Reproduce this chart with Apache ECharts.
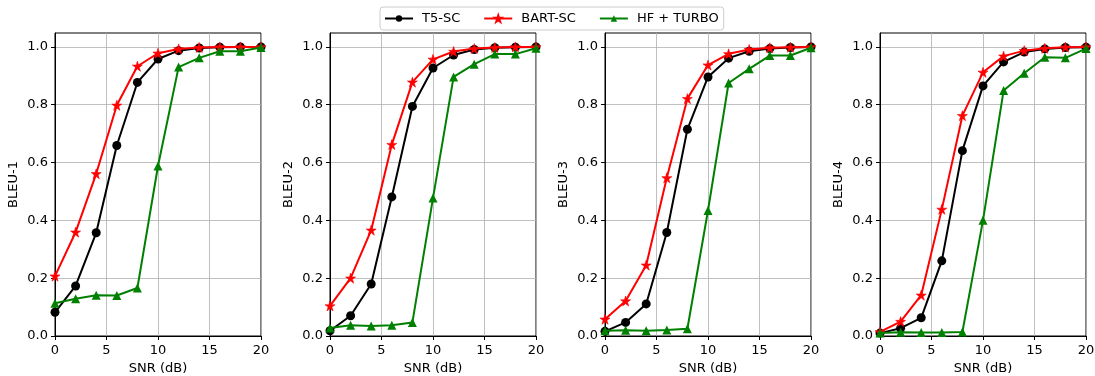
<!DOCTYPE html>
<html>
<head>
<meta charset="utf-8">
<script src="https://cdn.jsdelivr.net/npm/echarts@6/dist/echarts.min.js"></script>
<style>
html,body{margin:0;padding:0;background:#fff;}
#main{width:1095px;height:376px;}
</style>
</head>
<body>
<div id="main"></div>
<script>
const snr = [0, 2, 4, 6, 8, 10, 12, 14, 16, 18, 20];
const seriesNames = ['T5-SC', 'BART-SC', 'HF + TURBO'];
const panelLabels = ['BLEU-1', 'BLEU-2', 'BLEU-3', 'BLEU-4'];
const xTicks = [0, 5, 10, 15, 20];
const yTicks = [0, 0.2, 0.4, 0.6, 0.8, 1.0];

const t5_b1   = [0.082, 0.173, 0.357, 0.659, 0.877, 0.958, 0.987, 0.996, 0.999, 1.0, 1.0];
const bart_b1 = [0.207, 0.359, 0.561, 0.798, 0.933, 0.978, 0.993, 0.998, 1.0, 1.0, 1.0];
const hf_b1   = [0.113, 0.129, 0.141, 0.140, 0.166, 0.588, 0.930, 0.962, 0.985, 0.985, 0.998];

const t5_b2   = [0.018, 0.070, 0.180, 0.481, 0.794, 0.927, 0.972, 0.991, 0.997, 0.999, 1.0];
const bart_b2 = [0.104, 0.200, 0.366, 0.662, 0.878, 0.957, 0.984, 0.994, 0.998, 1.0, 1.0];
const hf_b2   = [0.028, 0.037, 0.035, 0.037, 0.047, 0.477, 0.896, 0.940, 0.975, 0.975, 0.995];

const t5_b3   = [0.016, 0.047, 0.111, 0.358, 0.715, 0.896, 0.961, 0.985, 0.994, 0.998, 1.0];
const bart_b3 = [0.058, 0.121, 0.245, 0.547, 0.821, 0.937, 0.976, 0.991, 0.997, 0.999, 1.0];
const hf_b3   = [0.018, 0.020, 0.018, 0.021, 0.025, 0.434, 0.875, 0.924, 0.970, 0.970, 0.997];

const t5_b4   = [0.010, 0.027, 0.063, 0.260, 0.641, 0.865, 0.948, 0.982, 0.993, 0.998, 0.999];
const bart_b4 = [0.014, 0.050, 0.141, 0.438, 0.762, 0.912, 0.968, 0.987, 0.995, 0.999, 1.0];
const hf_b4   = [0.010, 0.013, 0.012, 0.012, 0.014, 0.400, 0.849, 0.909, 0.964, 0.962, 0.994];

const panels = [
  [t5_b1, bart_b1, hf_b1],
  [t5_b2, bart_b2, hf_b2],
  [t5_b3, bart_b3, hf_b3],
  [t5_b4, bart_b4, hf_b4]
];

const colors = ['#000000', '#ff0000', '#008000'];
const starPath = 'path://M0,-1000L224.5,-309L951,-309L363,118L588,809L0,382L-588,809L-363,118L-951,-309L-224.5,-309Z';
const symbols = ['circle', starPath, 'triangle'];
const symbolSizes = [9, 10, 9];
const borderWidths = [0, 0.6, 0];

const gridLefts = [55, 330, 605, 880];
const font = 'DejaVu Sans';

const grids = [], xAxes = [], yAxes = [], series = [];
panels.forEach((p, gi) => {
  grids.push({left: gridLefts[gi], top: 33, width: 206, height: 303, show: true,
    outerBoundsMode: 'none', containLabel: false,
    borderColor: '#000', borderWidth: 1, backgroundColor: 'transparent'});
  xAxes.push({
    type: 'value', gridIndex: gi, min: 0, max: 20, interval: 5,
    name: 'SNR (dB)', nameLocation: 'middle', nameGap: 26,
    nameTextStyle: {fontFamily: font, fontSize: 13, color: '#000'},
    axisLine: {show: true, onZero: false, lineStyle: {color: '#000', width: 1}},
    axisTick: {show: true, length: 4, lineStyle: {color: '#000'}, customValues: xTicks},
    axisLabel: {fontFamily: font, fontSize: 13, color: '#000', margin: 8, customValues: xTicks,
      formatter: v => String(v)},
    splitLine: {show: true, lineStyle: {color: '#b0b0b0', width: 0.8}}
  });
  yAxes.push({
    type: 'value', gridIndex: gi, min: 0, max: 1.048, interval: 0.2,
    name: panelLabels[gi], nameLocation: 'middle', nameGap: 35, nameRotate: 90,
    nameTextStyle: {fontFamily: font, fontSize: 13, color: '#000'},
    axisLine: {show: true, onZero: false, lineStyle: {color: '#000', width: 1}},
    axisTick: {show: true, length: 4, lineStyle: {color: '#000'}, customValues: yTicks},
    axisLabel: {fontFamily: font, fontSize: 13, color: '#000', margin: 7, customValues: yTicks,
      formatter: v => v.toFixed(1)},
    splitLine: {show: true, lineStyle: {color: '#b0b0b0', width: 0.8}}
  });
  p.forEach((arr, si) => {
    series.push({
      name: seriesNames[si], type: 'line', xAxisIndex: gi, yAxisIndex: gi,
      data: snr.map((x, i) => [x, arr[i]]),
      symbol: symbols[si], symbolSize: symbolSizes[si], showAllSymbol: true,
      lineStyle: {color: colors[si], width: 2},
      itemStyle: {color: colors[si], borderColor: colors[si], borderWidth: borderWidths[si]},
      animation: false, z: 2 + si
    });
  });
});

const chart = echarts.init(document.getElementById('main'), null, {renderer: 'canvas'});
chart.setOption({
  backgroundColor: '#ffffff',
  animation: false,
  legend: {
    data: seriesNames, left: 380, top: 7,
    padding: [5, 5, 5, 4], itemGap: 23, itemWidth: 28, itemHeight: 8,
    borderColor: '#cccccc', borderWidth: 1, borderRadius: 3, backgroundColor: 'rgba(255,255,255,0.8)',
    textStyle: {fontFamily: font, fontSize: 13, color: '#000', padding: [0, 0, 0, 4]}
  },
  grid: grids, xAxis: xAxes, yAxis: yAxes, series: series
});
</script>
</body>
</html>
